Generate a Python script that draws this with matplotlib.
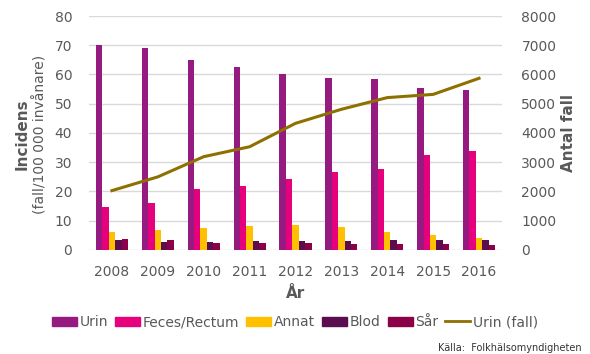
import numpy as np
from matplotlib import pyplot as plt
from matplotlib.lines import Line2D
from matplotlib.patches import Patch

years = ["2008", "2009", "2010", "2011", "2012", "2013", "2014", "2015", "2016"]
urin = [70.1, 69.2, 64.9, 62.5, 60.2, 58.8, 58.5, 55.5, 54.8]
feces = [14.8, 16.2, 20.9, 21.9, 24.2, 26.8, 27.8, 32.5, 33.8]
annat = [6.3, 6.8, 7.5, 8.2, 8.5, 7.9, 6.3, 5.1, 4.2]
blod = [3.5, 2.8, 2.8, 3.2, 3.2, 3.2, 3.5, 3.5, 3.5]
sar = [3.9, 3.5, 2.5, 2.5, 2.5, 2.2, 2.2, 2.2, 1.8]
urin_fall = [2030, 2500, 3190, 3530, 4330, 4810, 5210, 5320, 5870]

series = [("Urin", urin, "#951B81"),
          ("Feces/Rectum", feces, "#E6007E"),
          ("Annat", annat, "#FFC000"),
          ("Blod", blod, "#5B0E4F"),
          ("Sår", sar, "#8C0047")]
line_color = "#8E7000"
grey = "#595959"

fig = plt.figure(figsize=(5.9, 3.54), dpi=100)
ax = fig.add_axes([0.1508, 0.2938, 0.7, 0.661])
ax2 = ax.twinx()

x = np.arange(len(years))
w = 0.14
for i, (name, vals, col) in enumerate(series):
    ax.bar(x + (i - 2) * w, vals, w, color=col, zorder=2)

ax.set_ylim(0, 80)
ax.set_yticks(range(0, 81, 10))
ax.set_xlim(-0.5, len(years) - 0.5)
ax.set_xticks(x)
ax.set_xticklabels(years)
ax.grid(axis="y", color="#D9D9D9", linewidth=1, zorder=0)
ax.set_axisbelow(True)

ax2.plot(x, urin_fall, color=line_color, linewidth=2.2)
ax2.set_ylim(0, 8000)
ax2.set_yticks(range(0, 8001, 1000))

for a in (ax, ax2):
    for s in a.spines.values():
        s.set_visible(False)
    a.tick_params(length=0, labelsize=10, colors=grey, pad=6)
ax.tick_params(axis="x", pad=11)
ax.tick_params(axis="y", pad=12)
ax2.tick_params(axis="y", pad=14)

ax.set_xlabel("År", fontsize=11, fontweight="bold", color=grey, labelpad=5)
fig.text(0.037, 0.62, "Incidens", rotation=90, fontsize=11, fontweight="bold",
         color=grey, ha="center", va="center")
fig.text(0.068, 0.62, "(fall/100 000 invånare)", rotation=90, fontsize=10,
         color=grey, ha="center", va="center")
ax2.set_ylabel("Antal fall", fontsize=11, fontweight="bold", color=grey, labelpad=3)

handles = [Patch(color=c, label=n) for n, v, c in series]
handles.append(Line2D([0], [0], color=line_color, linewidth=2, label="Urin (fall)"))
fig.legend(handles=handles, loc="center", bbox_to_anchor=(0.5, 0.09), ncol=6,
           frameon=False, fontsize=10, labelcolor=grey, handlelength=1.8,
           handleheight=0.6, handletextpad=0.2, columnspacing=0.5)

fig.text(0.985, 0.004, "Källa:  Folkhälsomyndigheten", fontsize=7, color="#333333",
         ha="right", va="bottom")

fig.savefig("out.png", dpi=100)
